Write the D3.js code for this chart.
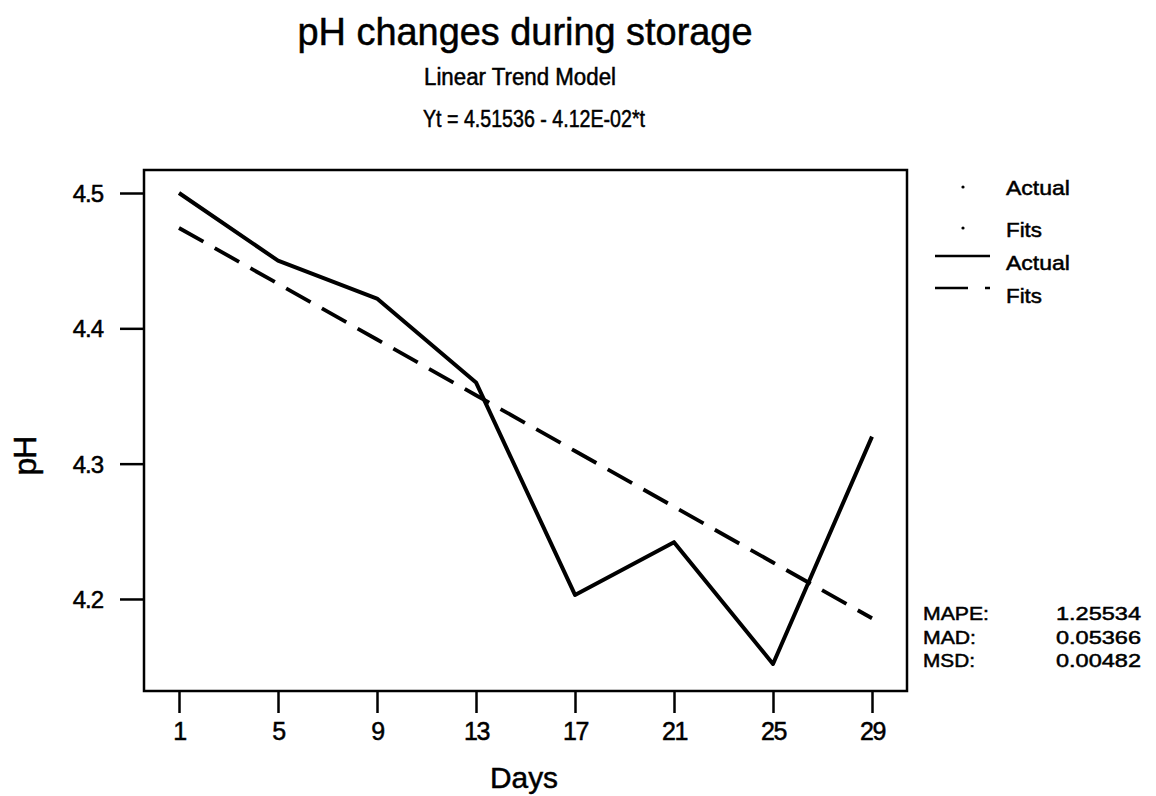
<meta charset="utf-8">
<html>
<head>
<style>
  body { margin: 0; background: #fff; }
  text { font-family: "Liberation Sans", Arial, sans-serif; fill: #000; stroke: #000; stroke-width: 0.5px; }
</style>
</head>
<body>
<div id="chart"></div>
<script src="https://d3js.org/d3.v7.min.js"></script>
<script>
// data
var days = [1, 5, 9, 13, 17, 21, 25, 29];
var actual = [4.50, 4.45, 4.422, 4.36, 4.203, 4.242, 4.152, 4.32];
var fits = days.map(function(d, i) { return 4.51536 - 0.0412 * (i + 1); });
var yTicks = [4.2, 4.3, 4.4, 4.5];
var stats = [["MAPE:", "1.25534"], ["MAD:", "0.05366"], ["MSD:", "0.00482"]];

var W = 1156, H = 796;
var box = {left: 144, right: 907, top: 170, bottom: 691};

var svg = d3.select("#chart").append("svg")
    .attr("width", W).attr("height", H);

var x = d3.scaleLinear().domain([1, 29]).range([179, 872]);
var y = d3.scaleLinear().domain([4.132, 4.517]).range([box.bottom, box.top]);

// frame
svg.append("rect")
    .attr("x", box.left).attr("y", box.top)
    .attr("width", box.right - box.left).attr("height", box.bottom - box.top)
    .attr("fill", "none").attr("stroke", "#000").attr("stroke-width", 2.5);

// x axis
var xAxis = svg.append("g")
    .attr("transform", "translate(0," + box.bottom + ")")
    .call(d3.axisBottom(x).tickValues(days).tickSize(22).tickPadding(9));
xAxis.select(".domain").remove();
xAxis.selectAll("line").attr("stroke-width", 2.5);
xAxis.selectAll("text").style("font-size", "25px").attr("letter-spacing", "-1.5");

// y axis
var yAxis = svg.append("g")
    .attr("transform", "translate(" + box.left + ",0)")
    .call(d3.axisLeft(y).tickValues(yTicks).tickFormat(d3.format(".1f")).tickSize(24).tickPadding(17));
yAxis.select(".domain").remove();
yAxis.selectAll("line").attr("stroke-width", 2.5);
yAxis.selectAll("text").style("font-size", "24px").attr("letter-spacing", "-1")
    .attr("dy", "0.36em");

// lines
var line = d3.line().x(function(d, i) { return x(days[i]); }).y(function(d) { return y(d); });
svg.append("path").datum(fits)
    .attr("d", line).attr("fill", "none").attr("stroke", "#000")
    .attr("stroke-width", 3.8).attr("stroke-dasharray", "28,13");
svg.append("path").datum(actual)
    .attr("d", line).attr("fill", "none").attr("stroke", "#000")
    .attr("stroke-width", 4).attr("stroke-linejoin", "round");

// titles
svg.append("text").attr("x", 525).attr("y", 45).attr("text-anchor", "middle")
    .style("font-size", "38px").attr("textLength", 455).attr("lengthAdjust", "spacingAndGlyphs")
    .text("pH changes during storage");
svg.append("text").attr("x", 520).attr("y", 85).attr("text-anchor", "middle")
    .style("font-size", "23px").attr("textLength", 192).attr("lengthAdjust", "spacingAndGlyphs")
    .text("Linear Trend Model");
svg.append("text").attr("x", 534).attr("y", 127).attr("text-anchor", "middle")
    .style("font-size", "23px").attr("textLength", 222).attr("lengthAdjust", "spacingAndGlyphs")
    .text("Yt = 4.51536 - 4.12E-02*t");

// axis titles
svg.append("text").attr("x", 524).attr("y", 788).attr("text-anchor", "middle")
    .style("font-size", "29px").attr("textLength", 68).attr("lengthAdjust", "spacingAndGlyphs").text("Days");
svg.append("text").attr("transform", "translate(36,456) rotate(-90)").attr("text-anchor", "middle")
    .style("font-size", "32px").attr("letter-spacing", "-1").text("pH");

// legend
var leg = svg.append("g");
leg.append("circle").attr("cx", 963).attr("cy", 187).attr("r", 1.6);
leg.append("circle").attr("cx", 963).attr("cy", 228).attr("r", 1.6);
leg.append("line").attr("x1", 935).attr("x2", 990).attr("y1", 256).attr("y2", 256)
    .attr("stroke", "#000").attr("stroke-width", 2.5);
leg.append("line").attr("x1", 935).attr("x2", 990).attr("y1", 288).attr("y2", 288)
    .attr("stroke", "#000").attr("stroke-width", 2.5).attr("stroke-dasharray", "33,17,5,20");
["Actual", "Fits", "Actual", "Fits"].forEach(function(t, i) {
  leg.append("text").attr("x", 1006).attr("y", [195, 237, 270, 303][i])
      .style("font-size", "21px").attr("textLength", t == "Actual" ? 64 : 36)
      .attr("lengthAdjust", "spacingAndGlyphs").text(t);
});

// fit statistics
stats.forEach(function(s, i) {
  svg.append("text").attr("x", 923).attr("y", 620 + i * 23.5)
      .style("font-size", "19px").attr("textLength", [66, 53, 52][i])
      .attr("lengthAdjust", "spacingAndGlyphs").text(s[0]);
  svg.append("text").attr("x", 1141).attr("y", 620 + i * 23.5).attr("text-anchor", "end")
      .style("font-size", "19px").attr("textLength", 85)
      .attr("lengthAdjust", "spacingAndGlyphs").text(s[1]);
});
</script>
</body>
</html>
